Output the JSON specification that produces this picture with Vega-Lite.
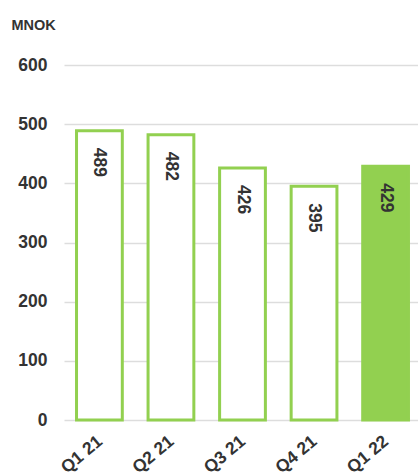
{
  "$schema": "https://vega.github.io/schema/vega-lite/v6.json",
  "width": 357,
  "height": 355,
  "autosize": {"type": "none"},
  "padding": {"left": 64, "top": 65, "right": 0, "bottom": 54},
  "background": "white",
  "config": {
    "view": {"stroke": null},
    "font": "Liberation Sans"
  },
  "data": {
    "values": [
      {"q": "Q1 21", "v": 489, "cur": false},
      {"q": "Q2 21", "v": 482, "cur": false},
      {"q": "Q3 21", "v": 426, "cur": false},
      {"q": "Q4 21", "v": 395, "cur": false},
      {"q": "Q1 22", "v": 429, "cur": true}
    ]
  },
  "encoding": {
    "x": {
      "field": "q", "type": "nominal", "sort": null,
      "scale": {"paddingInner": 0.36, "paddingOuter": 0.175},
      "axis": {
        "title": null, "labelAngle": -40, "labelAlign": "right", "labelBaseline": "top",
        "labelFontSize": 17.5, "labelFontWeight": "bold", "labelColor": "#333333",
        "ticks": false, "domain": false, "labelPadding": 12, "labelOffset": -5
      }
    },
    "y": {
      "field": "v", "type": "quantitative",
      "scale": {"domain": [0, 600]},
      "axis": {
        "values": [0, 100, 200, 300, 400, 500, 600],
        "title": "MNOK", "titleAngle": 0, "titleAlign": "left", "titleBaseline": "alphabetic",
        "titleX": -53, "titleY": -36, "titleFontSize": 14.5, "titleFontWeight": "bold", "titleColor": "#333333",
        "labelFontSize": 17.5, "labelFontWeight": "bold", "labelColor": "#333333", "labelPadding": 17,
        "ticks": false, "domain": false,
        "gridColor": "#dddddd", "gridWidth": 1.5
      }
    }
  },
  "layer": [
    {
      "mark": {"type": "bar", "stroke": "#92d050", "strokeWidth": 3},
      "encoding": {
        "fill": {
          "field": "cur", "type": "nominal",
          "scale": {"domain": [false, true], "range": ["#ffffff", "#92d050"]},
          "legend": null
        }
      }
    },
    {
      "mark": {"type": "text", "angle": 90, "align": "left", "baseline": "middle", "dx": 17, "fontSize": 17.5, "fontWeight": "bold", "color": "#333333"},
      "encoding": {"text": {"field": "v", "type": "quantitative"}}
    }
  ]
}
